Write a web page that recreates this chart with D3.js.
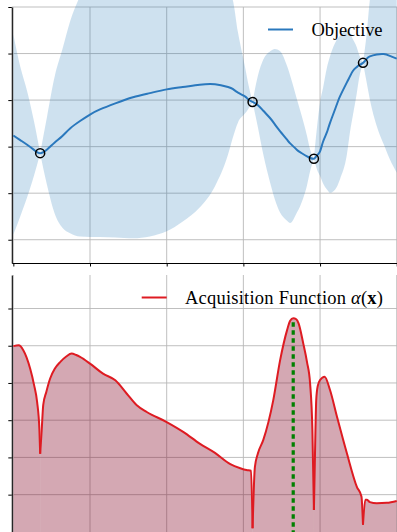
<!DOCTYPE html>
<html>
<head>
<meta charset="utf-8">
<script src="https://cdn.jsdelivr.net/npm/d3@7"></script>
<style>
  body { margin: 0; background: #fff; }
  svg { display: block; }
  .legend { font-family: "Liberation Serif", "DejaVu Serif", serif; font-size: 18.5px; fill: #000; }
</style>
</head>
<body>
<div id="chart"></div>
<script>
// grid of x positions shared by the surrogate model (top panel)
var gridX = [0.00,0.09,0.18,0.27,0.35,0.44,0.54,0.64,0.74,0.87,
             1.00,1.13,1.33,1.56,1.78,2.00,2.21,2.43,2.63,2.80,
             2.86,2.93,3.02,3.06,3.12,3.19,3.26,3.35,3.41,3.48,
             3.57,3.61,3.70,3.74,3.83,3.87,3.92,3.96,4.00,4.04,
             4.09,4.13,4.22,4.26,4.35,4.39,4.43,4.48,4.50,4.56,
             4.61,4.65,4.74,4.83,4.91,5.00];
var meanY = [0.24,0.14,0.04,-0.07,-0.14,-0.06,0.09,0.23,0.39,0.55,
             0.69,0.80,0.93,1.06,1.15,1.23,1.28,1.33,1.34,1.28,
             1.24,1.16,1.08,1.02,0.96,0.89,0.77,0.61,0.48,0.33,
             0.15,0.07,-0.07,-0.12,-0.21,-0.24,-0.26,-0.19,-0.10,0.11,
             0.31,0.51,0.91,1.08,1.38,1.51,1.63,1.71,1.74,1.80,
             1.89,1.94,1.98,1.99,1.95,1.89];
var upperY = [2.41,1.72,1.19,0.54,-0.14,0.65,1.51,2.09,2.69,3.23,
              3.59,3.81,3.91,4.02,4.13,4.13,4.02,3.91,3.70,3.33,
              3.16,2.45,1.72,1.38,0.96,1.53,1.87,2.05,2.10,2.05,
              1.73,1.53,1.01,0.78,0.23,-0.06,-0.26,0.41,0.95,1.27,
              1.70,1.94,2.30,2.39,2.48,2.43,2.30,2.13,2.02,1.80,
              2.45,3.16,3.81,4.24,4.45,4.67];
var lowerY = [-1.89,-1.50,-1.09,-0.62,-0.14,-0.83,-1.44,-1.74,-1.86,-1.93,
              -1.94,-1.94,-1.95,-1.97,-1.93,-1.82,-1.61,-1.31,-0.85,-0.17,
              0.18,0.52,0.71,0.80,0.96,0.41,-0.17,-0.78,-1.13,-1.42,
              -1.59,-1.64,-1.41,-1.28,-0.83,-0.53,-0.26,-0.49,-0.63,-0.79,
              -0.92,-0.99,-0.86,-0.70,-0.17,0.31,0.69,1.16,1.38,1.80,
              1.36,1.01,0.44,0.05,-0.27,-0.56];

// observed samples
var obsX = [0.35, 3.12, 3.92, 4.56];
var obsY = [-0.14, 0.96, -0.26, 1.80];

// acquisition function (bottom panel)
var acqX = [0.00,0.07,0.13,0.22,0.27,0.31,0.34,0.35,0.37,0.39,0.43,0.48,0.54,0.61,0.69,0.76,0.82,0.87,
            1.00,1.17,1.33,1.48,1.61,1.74,2.00,2.22,2.43,2.63,2.83,2.96,3.04,3.10,3.12,3.15,3.19,3.26,
            3.39,3.48,3.57,3.61,3.65,3.69,3.72,3.78,3.83,3.87,3.90,3.92,3.94,3.95,3.97,4.00,4.06,4.13,
            4.22,4.35,4.48,4.54,4.56,4.59,4.61,4.65,4.74,4.87,5.00];
var acqY = [4.99,5.01,4.88,4.38,3.95,3.49,2.74,2.10,2.74,3.41,3.76,4.12,4.38,4.56,4.71,4.79,4.75,4.70,
            4.52,4.25,4.07,3.71,3.40,3.22,2.95,2.68,2.37,2.12,1.82,1.71,1.66,1.64,0.10,1.74,2.11,2.47,
            3.54,4.62,5.42,5.67,5.74,5.71,5.60,5.07,4.56,3.99,2.74,0.59,2.74,3.54,3.92,4.08,4.17,3.81,
            3.10,2.11,1.21,0.95,0.19,0.86,0.86,0.80,0.77,0.78,0.83];

var xTicks = [0, 1, 2, 3, 4, 5];
var topTicks = [-2, -1, 0, 1, 2, 3];
var botTicks = [1, 2, 3, 4, 5, 6];

var width = 397, height = 532;

var svg = d3.select("#chart").append("svg")
    .attr("width", width)
    .attr("height", height);

var x = d3.scaleLinear().domain([-0.02, 5.1]).range([11.8, 11.8 + 5.12 * 76.68]);
var yTop = d3.scaleLinear().domain([-2.5, 3]).range([263, 7]);
var yBot = d3.scaleLinear().domain([-0.1, 6.9]).range([535.6, 275]);

var gridColor = "#b8b8b8";

// split a series at the observed points so the pinches / dips stay sharp
function splitAt(points, breaks) {
    var b = [-Infinity].concat(breaks, [Infinity]);
    var segs = [];
    for (var i = 0; i < b.length - 1; i++) {
        var seg = points.filter(function (p) { return p.x >= b[i] - 1e-9 && p.x <= b[i + 1] + 1e-9; });
        if (seg.length > 1) segs.push(seg);
    }
    return segs;
}

function drawGrid(g, yScale, yTicks, yMin, yMax) {
    g.selectAll("line.gx").data(xTicks).enter().append("line")
        .attr("x1", function (d) { return x(d); })
        .attr("x2", function (d) { return x(d); })
        .attr("y1", yMin).attr("y2", yMax)
        .attr("stroke", gridColor).attr("stroke-width", 0.9);
    g.selectAll("line.gy").data(yTicks).enter().append("line")
        .attr("x1", x.range()[0]).attr("x2", x.range()[1])
        .attr("y1", function (d) { return yScale(d); })
        .attr("y2", function (d) { return yScale(d); })
        .attr("stroke", gridColor).attr("stroke-width", 0.9);
}

// ---------- top panel ----------
var topPanel = svg.append("g");
drawGrid(topPanel, yTop, topTicks, yTop.range()[1], yTop.range()[0]);

var gp = gridX.map(function (d, i) {
    return { x: d, m: meanY[i], hi: upperY[i], lo: lowerY[i] };
});

var band = d3.area()
    .x(function (d) { return x(d.x); })
    .y0(function (d) { return yTop(d.lo); })
    .y1(function (d) { return yTop(d.hi); })
    .curve(d3.curveMonotoneX);

topPanel.selectAll("path.band")
    .data(splitAt(gp, obsX))
    .enter().append("path")
    .attr("class", "band")
    .attr("d", band)
    .attr("fill", "#1f77b4")
    .attr("fill-opacity", 0.22);

var meanLine = d3.line()
    .x(function (d) { return x(d.x); })
    .y(function (d) { return yTop(d.m); })
    .curve(d3.curveNatural);

topPanel.append("path")
    .datum(gp)
    .attr("d", meanLine)
    .attr("fill", "none")
    .attr("stroke", "#2a78bd")
    .attr("stroke-width", 2);

topPanel.selectAll("circle.obs")
    .data(obsX)
    .enter().append("circle")
    .attr("cx", function (d) { return x(d); })
    .attr("cy", function (d, i) { return yTop(obsY[i]); })
    .attr("r", 4.5)
    .attr("fill", "none")
    .attr("stroke", "#000")
    .attr("stroke-width", 1.5);

topPanel.append("g")
    .attr("transform", "translate(" + x.range()[0] + ",0)")
    .call(d3.axisLeft(yTop).tickValues(topTicks).tickSize(3.5).tickSizeOuter(0).tickFormat(""));
topPanel.append("g")
    .attr("transform", "translate(0," + yTop.range()[0] + ")")
    .call(d3.axisBottom(x).tickValues(xTicks).tickSize(3.5).tickSizeOuter(0).tickFormat(""));

// legend
topPanel.append("line")
    .attr("x1", 268).attr("x2", 293).attr("y1", 29.5).attr("y2", 29.5)
    .attr("stroke", "#2a78bd").attr("stroke-width", 2);
topPanel.append("text").attr("class", "legend")
    .attr("x", 311.5).attr("y", 35.5)
    .attr("textLength", 71).attr("lengthAdjust", "spacing")
    .text("Objective");

// ---------- bottom panel ----------
var botPanel = svg.append("g");
drawGrid(botPanel, yBot, botTicks, yBot.range()[1], yBot.range()[0]);

var ap = acqX.map(function (d, i) { return { x: d, y: acqY[i] }; });
var acqSegs = splitAt(ap, obsX);

var acqArea = d3.area()
    .x(function (d) { return x(d.x); })
    .y0(yBot.range()[0])
    .y1(function (d) { return yBot(d.y); })
    .curve(d3.curveMonotoneX);

botPanel.selectAll("path.acqfill")
    .data(acqSegs)
    .enter().append("path")
    .attr("class", "acqfill")
    .attr("d", acqArea)
    .attr("fill", "#800020")
    .attr("fill-opacity", 0.34);

var acqLine = d3.line()
    .x(function (d) { return x(d.x); })
    .y(function (d) { return yBot(d.y); })
    .curve(d3.curveMonotoneX);

botPanel.selectAll("path.acqline")
    .data(acqSegs)
    .enter().append("path")
    .attr("class", "acqline")
    .attr("d", acqLine)
    .attr("fill", "none")
    .attr("stroke", "#de1b22")
    .attr("stroke-width", 2)
    .attr("stroke-linejoin", "round");

// next query point = argmax of the acquisition
var best = d3.maxIndex(acqY);
botPanel.append("line")
    .attr("x1", x(acqX[best])).attr("x2", x(acqX[best]))
    .attr("y1", yBot(acqY[best]) + 4).attr("y2", yBot.range()[0])
    .attr("stroke", "#008000")
    .attr("stroke-width", 3.2)
    .attr("stroke-dasharray", "4.5,3.5");

botPanel.append("g")
    .attr("transform", "translate(" + x.range()[0] + ",0)")
    .call(d3.axisLeft(yBot).tickValues(botTicks).tickSize(3.5).tickSizeOuter(0).tickFormat(""));

botPanel.append("line")
    .attr("x1", 141.7).attr("x2", 166.7).attr("y1", 297.5).attr("y2", 297.5)
    .attr("stroke", "#de1b22").attr("stroke-width", 2);
var lt = botPanel.append("text").attr("class", "legend")
    .attr("x", 185).attr("y", 304)
    .attr("textLength", 198).attr("lengthAdjust", "spacing");
lt.append("tspan").text("Acquisition Function ");
lt.append("tspan").attr("font-style", "italic").text("α");
lt.append("tspan").text("(");
lt.append("tspan").attr("font-weight", "bold").text("x");
lt.append("tspan").text(")");

svg.selectAll(".domain").attr("stroke", "#000").attr("stroke-width", 1.1);
svg.selectAll(".tick line").attr("stroke", "#000").attr("stroke-width", 1);
</script>
</body>
</html>
